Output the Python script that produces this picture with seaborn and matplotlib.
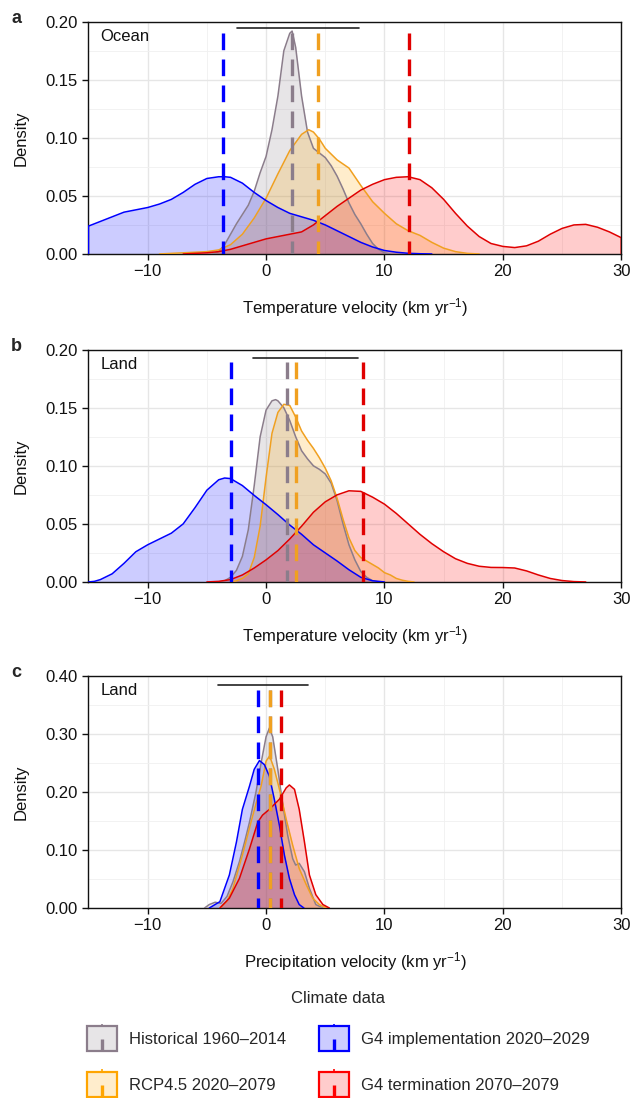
import numpy as np
import pandas as pd
import matplotlib
matplotlib.use("Agg")
import matplotlib.pyplot as plt
import seaborn as sns
from matplotlib.patches import Patch, Rectangle
from matplotlib.lines import Line2D
from matplotlib.legend_handler import HandlerBase
from matplotlib.ticker import MultipleLocator, FormatStrFormatter

# ---------------------------------------------------------------- series
SERIES = ["Historical 1960–2014", "RCP4.5 2020–2079",
          "G4 implementation 2020–2029", "G4 termination 2070–2079"]
LINE_COLORS = ["#8B7D8B", "#F0A020", "#0000FF", "#E00000"]
FILL_COLORS = ["#8B7D8B", "#FFA500", "#0000FF", "#FF0000"]
KEY_EDGES = ["#8B7D8B", "#FFA500", "#0000FF", "#FF0000"]

# ---------------------------------------------------------------- panel a: ocean temperature velocity
a_hist_x = [-4.5, -4, -3.5, -3, -2.5, -2, -1.5, -1, -0.5, 0, 0.5, 1, 1.5, 2, 2.2, 2.5, 3, 3.5, 4,
            4.5, 5, 5.5, 6, 6.5, 7, 7.5, 8, 8.5, 9, 9.5, 10, 10.5]
a_hist_y = [0, 0.002, 0.008, 0.017, 0.026, 0.034, 0.042, 0.054, 0.070, 0.084, 0.107, 0.136, 0.175,
            0.190, 0.192, 0.178, 0.136, 0.105, 0.091, 0.087, 0.083, 0.076, 0.067, 0.056, 0.044,
            0.034, 0.026, 0.017, 0.009, 0.004, 0.001, 0]
a_rcp_x = [-9, -7, -5, -4, -3, -2, -1, 0, 1, 2, 3, 3.6, 4, 4.5, 5, 6, 7, 8, 9, 10, 11, 12, 13, 14,
           15, 16, 17, 18]
a_rcp_y = [0, 0.001, 0.002, 0.0035, 0.008, 0.017, 0.031, 0.048, 0.069, 0.089, 0.103, 0.107, 0.105,
           0.099, 0.091, 0.081, 0.074, 0.059, 0.045, 0.035, 0.026, 0.020, 0.016, 0.010, 0.005,
           0.002, 0.0005, 0]
a_impl_x = [-15, -14, -13, -12, -11, -10, -9, -8, -7, -6, -5, -4, -3.5, -3, -2, -1, 0, 1, 2, 3, 4,
            5, 6, 7, 8, 9, 10, 11, 12, 13, 14]
a_impl_y = [0.024, 0.028, 0.032, 0.036, 0.038, 0.040, 0.043, 0.047, 0.053, 0.060, 0.065, 0.0665,
            0.0665, 0.066, 0.061, 0.053, 0.046, 0.040, 0.035, 0.032, 0.029, 0.025, 0.020, 0.015,
            0.010, 0.006, 0.003, 0.0015, 0.0006, 0.0002, 0]
a_term_x = [-7, -6, -5, -4, -3, -2, -1, 0, 1, 2, 3, 4, 5, 6, 7, 8, 9, 10, 11, 12, 13, 14, 15, 16,
            17, 18, 19, 20, 21, 22, 23, 24, 25, 26, 27, 28, 29, 30]
a_term_y = [0, 0.0005, 0.001, 0.002, 0.004, 0.007, 0.010, 0.013, 0.015, 0.017, 0.019, 0.025, 0.033,
            0.041, 0.048, 0.055, 0.060, 0.064, 0.066, 0.0665, 0.064, 0.057, 0.047, 0.035, 0.024,
            0.015, 0.009, 0.0065, 0.0055, 0.007, 0.011, 0.017, 0.022, 0.025, 0.0255, 0.023,
            0.019, 0.014]
a_means = [2.17, 4.37, -3.66, 12.1]
a_range = [-2.45, 7.82]

# ---------------------------------------------------------------- panel b: land temperature velocity
b_hist_x = [-4, -3.5, -3, -2.5, -2, -1.5, -1, -0.5, 0, 0.5, 0.8, 1, 1.5, 2, 2.5, 3, 3.5, 4, 4.5,
            5, 5.5, 6, 6.5, 7, 7.5, 8, 8.5, 9, 9.5]
b_hist_y = [0, 0.001, 0.004, 0.010, 0.022, 0.045, 0.083, 0.125, 0.148, 0.156, 0.157, 0.156, 0.150,
            0.139, 0.125, 0.113, 0.106, 0.100, 0.097, 0.093, 0.085, 0.070, 0.050, 0.032, 0.019,
            0.009, 0.004, 0.001, 0]
b_rcp_x = [-3, -2.5, -2, -1.5, -1, -0.5, 0, 0.5, 1, 1.5, 2, 2.5, 3, 3.5, 4, 4.5, 5, 5.5, 6, 6.5,
           7, 7.5, 8, 8.5, 9, 9.5, 10, 10.5, 11, 11.5, 12, 12.5]
b_rcp_y = [0, 0.001, 0.003, 0.007, 0.021, 0.048, 0.090, 0.128, 0.146, 0.153, 0.152, 0.142, 0.130,
           0.122, 0.115, 0.107, 0.098, 0.087, 0.072, 0.054, 0.038, 0.027, 0.021, 0.018, 0.015,
           0.012, 0.008, 0.006, 0.003, 0.0015, 0.0005, 0]
b_impl_x = [-15, -14.5, -14, -13, -12, -11, -10, -9, -8, -7, -6, -5, -4, -3.5, -3, -2, -1, 0, 1, 2,
            3, 4, 5, 6, 7, 8, 9, 10]
b_impl_y = [0, 0.0005, 0.002, 0.007, 0.016, 0.026, 0.032, 0.037, 0.042, 0.050, 0.064, 0.079,
            0.088, 0.0895, 0.089, 0.083, 0.0745, 0.0665, 0.058, 0.049, 0.041, 0.032, 0.025,
            0.018, 0.0105, 0.004, 0.001, 0]
b_term_x = [-5, -4, -3, -2, -1, 0, 1, 2, 3, 4, 5, 6, 7, 8, 9, 10, 11, 12, 13, 14, 15, 16, 17, 18,
            19, 20, 21, 22, 23, 24, 25, 26, 27]
b_term_y = [0, 0.0005, 0.002, 0.006, 0.012, 0.019, 0.027, 0.037, 0.048, 0.060, 0.069, 0.075,
            0.0785, 0.078, 0.073, 0.067, 0.059, 0.050, 0.041, 0.033, 0.026, 0.020, 0.016, 0.0135,
            0.0125, 0.0124, 0.012, 0.0095, 0.006, 0.003, 0.0012, 0.0003, 0]
b_means = [1.75, 2.54, -2.96, 8.16]
b_range = [-1.13, 7.74]

# ---------------------------------------------------------------- panel c: land precipitation velocity
c_hist_x = [-5.2, -4.8, -4.3, -3.8, -3.3, -2.8, -2.25, -1.8, -1.4, -0.85, -0.42, 0, 0.28, 0.56,
            0.99, 1.4, 1.83, 2.25, 2.5, 2.8, 3.24, 3.66, 4.2, 4.8]
c_hist_y = [0, 0.006, 0.010, 0.008, 0.020, 0.045, 0.080, 0.115, 0.148, 0.200, 0.250, 0.295,
            0.310, 0.295, 0.239, 0.180, 0.125, 0.085, 0.074, 0.077, 0.0625, 0.034, 0.006, 0]
c_rcp_x = [-3.9, -3.3, -2.8, -2.0, -1.27, -0.85, -0.42, 0, 0.3, 0.7, 1.13, 1.7, 2.25, 2.8, 3.4,
           3.94, 4.5, 5.1]
c_rcp_y = [0, 0.012, 0.034, 0.091, 0.148, 0.180, 0.210, 0.253, 0.262, 0.239, 0.2045, 0.153,
           0.108, 0.068, 0.040, 0.017, 0.006, 0]
c_impl_x = [-4.8, -3.9, -3.1, -2.5, -2.0, -1.4, -1.0, -0.56, -0.14, 0.28, 0.7, 1.13, 1.55, 1.97,
            2.4, 2.8, 3.2]
c_impl_y = [0, 0.011, 0.057, 0.114, 0.170, 0.210, 0.239, 0.254, 0.247, 0.227, 0.187, 0.142,
            0.091, 0.051, 0.023, 0.006, 0]
c_term_x = [-3.9, -3.1, -2.25, -1.4, -0.7, -0.3, 0.28, 1.13, 1.7, 1.97, 2.4, 2.8, 3.24, 3.66,
            4.2, 4.8, 5.35]
c_term_y = [0, 0.017, 0.051, 0.102, 0.148, 0.160, 0.170, 0.1875, 0.207, 0.212, 0.2045, 0.170,
            0.114, 0.057, 0.023, 0.006, 0]
c_means = [0.3, 0.33, -0.72, 1.3]
c_range = [-4.08, 3.52]

PANELS = [
    dict(tag="a", region="Ocean", xlabel="Temperature velocity (km yr$^{-1}$)",
         curves=[(a_hist_x, a_hist_y), (a_rcp_x, a_rcp_y), (a_impl_x, a_impl_y), (a_term_x, a_term_y)],
         means=a_means, span=a_range, ymax=0.20, ystep=0.05, vtop=0.19, spany=0.195),
    dict(tag="b", region="Land", xlabel="Temperature velocity (km yr$^{-1}$)",
         curves=[(b_hist_x, b_hist_y), (b_rcp_x, b_rcp_y), (b_impl_x, b_impl_y), (b_term_x, b_term_y)],
         means=b_means, span=b_range, ymax=0.20, ystep=0.05, vtop=0.189, spany=0.193),
    dict(tag="c", region="Land", xlabel="Precipitation velocity (km yr$^{-1}$)",
         curves=[(c_hist_x, c_hist_y), (c_rcp_x, c_rcp_y), (c_impl_x, c_impl_y), (c_term_x, c_term_y)],
         means=c_means, span=c_range, ymax=0.40, ystep=0.10, vtop=0.375, spany=0.385),
]

# ---------------------------------------------------------------- style
sns.set_theme(style="white")
plt.rcParams["font.family"] = ["Liberation Sans", "DejaVu Sans"]
plt.rcParams["axes.unicode_minus"] = True
plt.rcParams["mathtext.fontset"] = "custom"
plt.rcParams["mathtext.rm"] = "Liberation Sans"
plt.rcParams["mathtext.it"] = "Liberation Sans:italic"

FS = 12

fig = plt.figure(figsize=(6.32, 10.98), dpi=100)
L, W = 0.140, 0.843
bottoms = [0.7687, 0.4700, 0.1730]
H = 0.2115

for panel, bot in zip(PANELS, bottoms):
    ax = fig.add_axes([L, bot, W, H])
    ax.set_xlim(-15, 30)
    ax.set_ylim(0, panel["ymax"])
    ax.xaxis.set_major_locator(MultipleLocator(10))
    ax.xaxis.set_minor_locator(MultipleLocator(5))
    ax.yaxis.set_major_locator(MultipleLocator(panel["ystep"]))
    ax.yaxis.set_minor_locator(MultipleLocator(panel["ystep"] / 2))
    ax.yaxis.set_major_formatter(FormatStrFormatter("%.2f"))
    ax.grid(which="major", color="#e6e6e6", lw=1.0, zorder=0)
    ax.grid(which="minor", color="#f0f0f0", lw=0.6, zorder=0)
    ax.set_axisbelow(True)

    for (xs, ys), lc, fc in zip(panel["curves"], LINE_COLORS, FILL_COLORS):
        df = pd.DataFrame({"x": [xs[0]] + list(xs) + [xs[-1]],
                           "y": [0.0] + list(ys) + [0.0]})
        ax.fill_between(xs, ys, 0, color=fc, alpha=0.2, lw=0, zorder=2)
        sns.lineplot(data=df, x="x", y="y", ax=ax, color=lc, lw=1.1, sort=False,
                     estimator=None, zorder=3)

    # group means as dashed verticals, drawn downward from the top
    for m, lc in zip(panel["means"], LINE_COLORS):
        ax.plot([m, m], [panel["vtop"], 0], color=lc, lw=2.4, dashes=(5.0, 2.8), zorder=4)

    ax.plot(panel["span"], [panel["spany"]] * 2, color="#222222", lw=1.2, zorder=4)

    ax.text(0.022, 0.935, panel["region"], transform=ax.transAxes, fontsize=FS,
            ha="left", va="center", color="#111111")
    ax.text(-0.145, 1.015, panel["tag"], transform=ax.transAxes, fontsize=13,
            fontweight="bold", ha="left", va="center")

    ax.set_xlabel(panel["xlabel"], fontsize=FS, labelpad=12, color="#111111")
    ax.set_ylabel("Density", fontsize=FS, labelpad=12, color="#111111")
    ax.tick_params(axis="both", which="major", direction="out", length=4.5, width=1.0,
                   labelsize=FS, colors="#111111", left=True, bottom=True, pad=3)
    ax.tick_params(which="minor", length=0)
    for s in ax.spines.values():
        s.set_visible(True)
        s.set_color("#111111")
        s.set_linewidth(1.0)


# ---------------------------------------------------------------- legend keys: filled box with a mean marker
class MeanKeyHandler(HandlerBase):
    def create_artists(self, legend, orig_handle, xdescent, ydescent, width, height,
                       fontsize, trans):
        x0, y0 = -xdescent, -ydescent
        edge = orig_handle.get_edgecolor()
        face = orig_handle.get_facecolor()
        box = Rectangle((x0, y0), width, height, facecolor=face, edgecolor=edge,
                        lw=1.6, transform=trans)
        cx = x0 + width / 2
        stem = Line2D([cx, cx], [y0, y0 + height * 0.48], color=edge, lw=2.4,
                      solid_capstyle="butt", transform=trans)
        nub = Line2D([cx, cx], [y0 + height, y0 + height + 2], color=edge, lw=1.2,
                     solid_capstyle="butt", transform=trans)
        return [box, stem, nub]


handles = [Patch(facecolor=(*matplotlib.colors.to_rgb(fc), 0.2), edgecolor=ec)
           for fc, ec in zip(FILL_COLORS, KEY_EDGES)]
leg = fig.legend(handles, SERIES, loc="upper center", bbox_to_anchor=(0.535, 0.1085),
                 ncol=2, frameon=False, fontsize=FS, title="Climate data",
                 title_fontsize=FS, handler_map={Patch: MeanKeyHandler()},
                 handlelength=1.8, handleheight=1.9, handletextpad=0.7,
                 columnspacing=2.0, labelspacing=1.25, borderpad=0.2)
leg._legend_box.align = "center"

fig.savefig("out.png", dpi=100)
